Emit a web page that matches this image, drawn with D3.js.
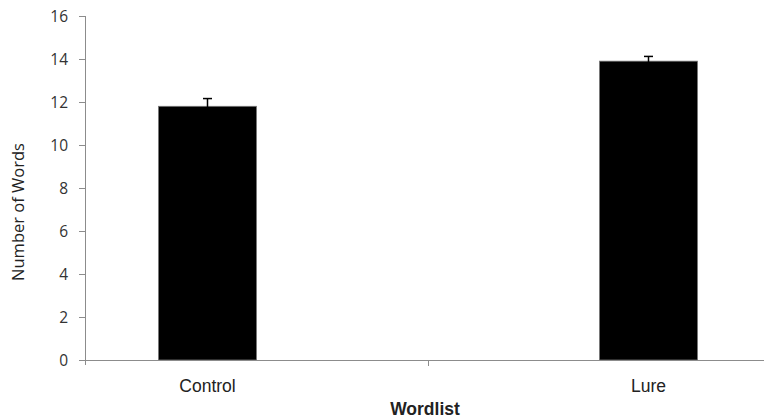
<!DOCTYPE html>
<html>
<head>
<meta charset="utf-8">
<script src="https://cdn.jsdelivr.net/npm/d3@7"></script>
<style>
  body { margin: 0; background: #fff; }
</style>
</head>
<body>
<div id="chart"></div>
<script>
// Word recall by wordlist, bars with standard error
const categories = ["Control", "Lure"];
const series = ["Control", "Lure"];
const values = [11.8, 13.9];
const errors = [0.36, 0.22];
const yTicks = [0, 2, 4, 6, 8, 10, 12, 14, 16];

const width = 764, height = 418;
const plotLeft = 85, plotRight = 771, plotTop = 16, plotBottom = 360;

const svg = d3.select("#chart")
  .append("svg")
  .attr("width", width)
  .attr("height", height);

const y = d3.scaleLinear().domain([0, 16]).range([plotBottom, plotTop]);
const x0 = d3.scaleBand().domain(categories).range([plotLeft, plotRight]).padding(0);
// gap width 150%: two bar slots plus 1.5 slots of gap per category
const slot = x0.bandwidth() / 3.5;
const x1 = d3.scaleBand().domain(series)
  .range([slot * 0.75, slot * 2.75]).padding(0);

const axisColor = "#8c8c8c";

// y axis
svg.append("line")
  .attr("x1", plotLeft + 0.5).attr("x2", plotLeft + 0.5)
  .attr("y1", plotTop).attr("y2", plotBottom + 5)
  .attr("stroke", axisColor);

svg.selectAll(".ytick")
  .data(yTicks)
  .enter()
  .append("line")
  .attr("x1", plotLeft - 6).attr("x2", plotLeft)
  .attr("y1", d => Math.round(y(d)) + 0.5)
  .attr("y2", d => Math.round(y(d)) + 0.5)
  .attr("stroke", axisColor);

svg.selectAll(".ylabel")
  .data(yTicks)
  .enter()
  .append("text")
  .attr("x", 68)
  .attr("y", d => y(d))
  .attr("dy", "0.36em")
  .attr("text-anchor", "end")
  .attr("fill", "#333")
  .style("font-family", "'Open Sans', sans-serif")
  .style("font-size", "15.5px")
  .text(d => d);

svg.append("text")
  .attr("transform", `translate(24,212) rotate(-90)`)
  .attr("text-anchor", "middle")
  .attr("fill", "#222")
  .style("font-family", "'Open Sans', sans-serif")
  .style("font-size", "16.5px")
  .text("Number of Words");

// bars
const bars = categories.map((c, i) => ({cat: c, ser: series[i], value: values[i], err: errors[i]}));

svg.selectAll(".bar")
  .data(bars)
  .enter()
  .append("rect")
  .attr("x", d => x0(d.cat) + x1(d.ser))
  .attr("y", d => y(d.value))
  .attr("width", x1.bandwidth())
  .attr("height", d => plotBottom - y(d.value))
  .attr("fill", "#000")
  .attr("stroke", "#777")
  .attr("stroke-width", 0.8);

// error bars
const cx = d => x0(d.cat) + x1(d.ser) + x1.bandwidth() / 2;
svg.selectAll(".err")
  .data(bars)
  .enter()
  .append("line")
  .attr("x1", cx).attr("x2", cx)
  .attr("y1", d => y(d.value - d.err))
  .attr("y2", d => y(d.value + d.err))
  .attr("stroke", "#000")
  .attr("stroke-width", 1.5);

svg.selectAll(".cap")
  .data(bars)
  .enter()
  .append("line")
  .attr("x1", d => cx(d) - 4.5).attr("x2", d => cx(d) + 4.5)
  .attr("y1", d => y(d.value + d.err))
  .attr("y2", d => y(d.value + d.err))
  .attr("stroke", "#000")
  .attr("stroke-width", 1.5);

// x axis
svg.append("line")
  .attr("x1", plotLeft).attr("x2", width)
  .attr("y1", plotBottom + 0.5).attr("y2", plotBottom + 0.5)
  .attr("stroke", axisColor);

svg.selectAll(".xtick")
  .data(categories.slice(1))
  .enter()
  .append("line")
  .attr("x1", d => Math.round(x0(d)) + 0.5)
  .attr("x2", d => Math.round(x0(d)) + 0.5)
  .attr("y1", plotBottom).attr("y2", plotBottom + 6)
  .attr("stroke", axisColor);

svg.selectAll(".xlabel")
  .data(bars)
  .enter()
  .append("text")
  .attr("x", cx)
  .attr("y", 392)
  .attr("text-anchor", "middle")
  .attr("fill", "#222")
  .style("font-family", "'Liberation Sans', Arial, sans-serif")
  .style("font-size", "17.5px")
  .text(d => d.cat);

svg.append("text")
  .attr("x", 425)
  .attr("y", 415)
  .attr("text-anchor", "middle")
  .attr("fill", "#222")
  .style("font-family", "'Liberation Sans', Arial, sans-serif")
  .style("font-size", "17.5px")
  .style("font-weight", "bold")
  .text("Wordlist");
</script>
</body>
</html>
